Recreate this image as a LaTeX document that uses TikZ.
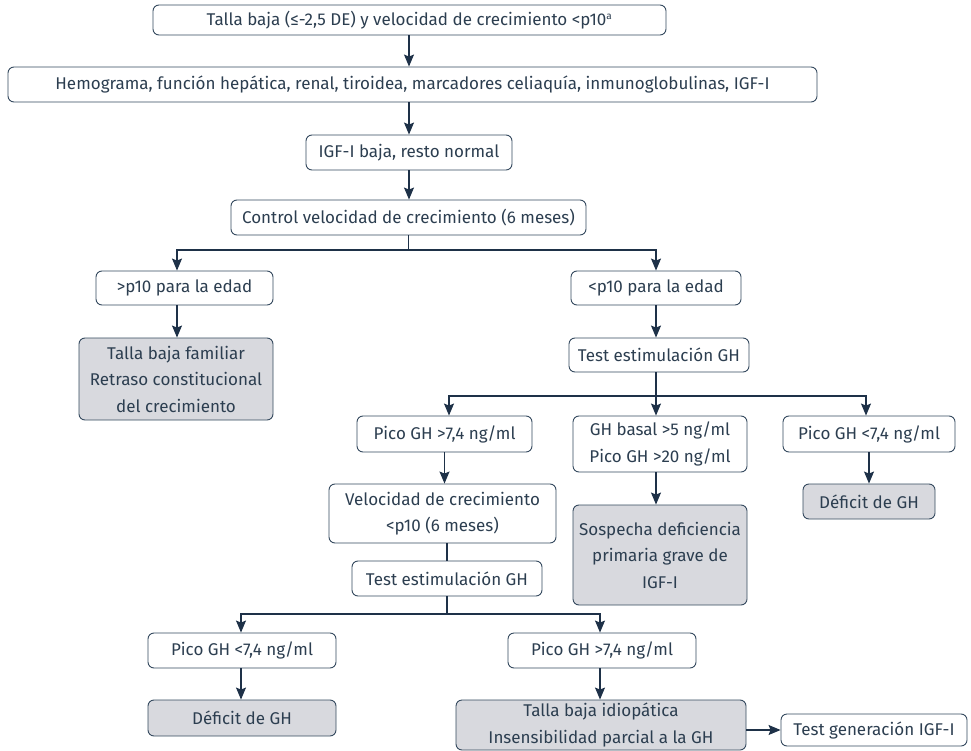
\documentclass[tikz,border=0pt]{standalone}
\usepackage{fontspec}
\setmainfont{Fira Sans}
\usetikzlibrary{arrows.meta}
\definecolor{txt}{HTML}{2C3E50}
\definecolor{bord}{HTML}{34495E}
\definecolor{lin}{HTML}{1E3148}
\definecolor{grayfill}{HTML}{D8D9DE}
\begin{document}
\begin{tikzpicture}[x=1pt,y=-1pt,
  box/.style={draw=bord, line width=0.9pt, rounded corners=6pt, fill=white, text=txt, align=center, inner sep=0pt, font=\fontsize{17}{26.5}\selectfont},
  gbox/.style={box, fill=grayfill},
  arr/.style={draw=lin, line width=1.1pt, -{Stealth[length=12pt,width=10pt,inset=2pt]}},
  ln/.style={draw=lin, line width=1.1pt}]
\useasboundingbox (0,0) rectangle (971,751);
\node[box, minimum width=513, minimum height=30] (n1) at (409.5,20) {Talla baja (≤-2,5 DE) y velocidad de crecimiento <p10\textsuperscript{\fontsize{10}{10}\selectfont a}};
\node[box, minimum width=809, minimum height=35] (n2) at (412.5,84.5) {Hemograma, función hepática, renal, tiroidea, marcadores celiaquía, inmunoglobulinas, IGF-I};
\node[box, minimum width=206, minimum height=35] (n3) at (409,152.5) {IGF-I baja, resto normal};
\node[box, minimum width=355, minimum height=35] (n4) at (408.5,217.5) {Control velocidad de crecimiento (6 meses)};
\node[box, minimum width=177, minimum height=34] (n5) at (184.5,288) {>p10 para la edad};
\node[box, minimum width=170, minimum height=34] (n6) at (656,288) {<p10 para la edad};
\node[gbox, minimum width=194, minimum height=82] (n7) at (176,379) {Talla baja familiar\\Retraso constitucional\\del crecimiento};
\node[box, minimum width=180, minimum height=34] (n8) at (659,355) {Test estimulación GH};
\node[box, minimum width=175, minimum height=36] (n9) at (444.5,434) {Pico GH >7,4 ng/ml};
\node[box, minimum width=174, minimum height=56] (n10) at (660,444) {GH basal >5 ng/ml\\Pico GH >20 ng/ml};
\node[box, minimum width=172, minimum height=36] (n11) at (869,434) {Pico GH <7,4 ng/ml};
\node[gbox, minimum width=132, minimum height=35] (n12) at (869,501.5) {Déficit de GH};
\node[box, minimum width=227, minimum height=59] (n13) at (442.5,513.5) {Velocidad de crecimiento\\<p10 (6 meses)};
\node[gbox, minimum width=174, minimum height=100] (n14) at (660,555) {Sospecha deficiencia\\primaria grave de\\IGF-I};
\node[box, minimum width=190, minimum height=35] (n15) at (447,578.5) {Test estimulación GH};
\node[box, minimum width=188, minimum height=35] (n16) at (242,650.5) {Pico GH <7,4 ng/ml};
\node[box, minimum width=188, minimum height=35] (n17) at (602,650.5) {Pico GH >7,4 ng/ml};
\node[gbox, minimum width=188, minimum height=36] (n18) at (242,718) {Déficit de GH};
\node[gbox, minimum width=290, minimum height=50] (n19) at (601,725) {Talla baja idiopática\\Insensibilidad parcial a la GH};
\node[box, minimum width=186, minimum height=32] (n20) at (874,730) {Test generación IGF-I};
% connectors
\coordinate (c1) at (409,0);
\draw[arr] (n1.south -| c1) -- (n2.north -| c1);
\draw[arr] (n2.south -| c1) -- (n3.north -| c1);
\draw[arr] (n3.south -| c1) -- (n4.north -| c1);
\coordinate (b1) at (408.5,250);
\draw[ln] (n4.south) -- (b1);
\coordinate (c5) at (177,0);
\draw[arr] (b1) -| (n5.north -| c5);
\draw[arr] (b1) -| (n6.north);
\draw[arr] (n5.south -| c5) -- (n7.north -| c5);
\draw[arr] (n6.south) -- (n6.south |- n8.north);
\coordinate (b2) at (656,396);
\draw[ln] (n6.south |- n8.south) -- (b2);
\coordinate (c9) at (449,0);
\coordinate (c11) at (866,0);
\draw[arr] (b2) -| (n9.north -| c9);
\draw[arr] (b2) -- (b2 |- n10.north);
\draw[arr] (b2) -| (n11.north -| c11);
\draw[arr] (n9.south) -- (n9.south |- n13.north);
\coordinate (c14) at (656,0);
\draw[arr] (n10.south -| c14) -- (n14.north -| c14);
\draw[arr] (n11.south) -- (n12.north);
\draw[ln] (n13.south -| n15.north) -- (n15.north);
\coordinate (b3) at (447,614);
\draw[ln] (n15.south) -- (b3);
\coordinate (c16) at (241,0);
\coordinate (c17) at (600,0);
\draw[arr] (b3) -| (n16.north -| c16);
\draw[arr] (b3) -| (n17.north -| c17);
\draw[arr] (n16.south -| c16) -- (n18.north -| c16);
\draw[arr] (n17.south -| c17) -- (n19.north -| c17);
\draw[arr] (n19.east |- n20.west) -- (n20.west);
\end{tikzpicture}
\end{document}
